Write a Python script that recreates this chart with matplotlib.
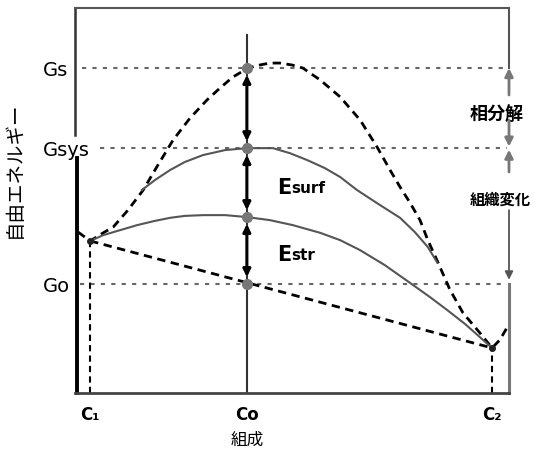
"""自由エネルギー-組成 模式図（相分解と組織変化）。"""
import matplotlib
matplotlib.use("Agg")
import matplotlib.pyplot as plt

plt.rcParams['font.family'] = ['DejaVu Sans', 'Noto Sans CJK JP']
JP = ['Noto Sans CJK JP', 'DejaVu Sans']

# 横軸: 組成 (0-100), 縦軸: 自由エネルギー (0-100)。図から読み取った値
C1, C0, C2 = 3.5, 39.6, 96.1
G_s, G_sys, G_str, G_o = 84.4, 63.6, 45.7, 28.3
G_c1, G_c2 = 39.5, 11.7

# 破線の曲線 (Gs を通る)
dash_x = [0.7, 3.5, 6.5, 8.8, 12.2, 15.7, 19.1, 22.6, 26.5, 30.4, 33.4, 36.4,
          39.9, 42.6, 44.9, 47.2, 50.0, 52.5, 56.5, 61.1, 65.7, 69.6, 72.6,
          74.9, 77.2, 79.5, 81.3, 83.4, 86.4, 89.4, 93.3, 96.1, 97.9, 99.5]
dash_g = [41.8, 39.5, 41.6, 43.1, 47.5, 52.7, 59.2, 65.7, 71.4, 76.1, 79.2, 82.1,
          84.4, 85.2, 85.7, 85.7, 85.2, 84.4, 81.3, 76.9, 70.9, 63.9, 57.9,
          53.5, 49.4, 44.9, 39.7, 34.5, 26.8, 20.8, 15.6, 11.7, 13.8, 16.9]

# 実線 (Gsys を通る)
sys_x = [15.4, 18.4, 21.9, 25.3, 29.5, 34.6, 39.6, 45.6, 49.5, 53.5, 57.6,
         61.1, 65.0, 70.3, 74.9, 78.3, 81.3, 83.4]
sys_g = [52.7, 55.3, 57.9, 60.0, 61.8, 63.1, 63.6, 63.6, 62.3, 60.5, 58.4,
         56.1, 52.7, 48.8, 45.5, 41.8, 37.9, 34.0]

# 実線 (Estr 側)
str_x = [3.5, 6.5, 10.4, 14.3, 18.4, 21.9, 25.3, 29.5, 34.6, 39.6, 44.9,
         50.2, 56.5, 61.1, 65.7, 71.4, 77.2, 81.8, 85.7, 89.9, 93.3, 96.1]
str_g = [39.5, 41.0, 42.3, 43.6, 44.7, 45.5, 46.0, 46.2, 46.2, 45.7, 44.9,
         43.6, 41.6, 39.7, 37.1, 33.2, 28.6, 24.9, 21.6, 17.9, 14.5, 11.7]

x_ticks = [C1, C0, C2]
x_labels = ['C₁', 'Co', 'C₂']
y_ticks = [G_o, G_sys, G_s]
y_labels = ['Go', 'Gsys', 'Gs']

fig = plt.figure(figsize=(5.34, 4.55), dpi=100)
ax = fig.add_axes([75 / 534, 62 / 455, 434 / 534, 385 / 455])
ax.set_xlim(0, 100)
ax.set_ylim(0, 100)

for side in ['left', 'right']:
    ax.spines[side].set_visible(False)
ax.spines['top'].set_color('#555555')
ax.spines['top'].set_linewidth(1.5)
ax.spines['bottom'].set_color('#444444')
ax.spines['bottom'].set_linewidth(2)

# 左軸（Gsys 付近で途切れる）
ax.plot([0, 0], [1.0, 0.67], color='#333333', lw=1.8, transform=ax.transAxes, clip_on=False)
ax.plot([0.004, 0.004], [0.61, 0.0], color='black', lw=2.8, transform=ax.transAxes, clip_on=False)

gray = '#666666'
dot_style = dict(color=gray, lw=1.5, linestyle=(0, (2, 3)))
ax.plot([1.6, 99.5], [G_s, G_s], **dot_style)
ax.plot([5.8, 99.5], [G_sys, G_sys], **dot_style)
ax.plot([1.2, 99.5], [G_o, G_o], **dot_style)

# Co の縦線
ax.plot([C0, C0], [0, 93.0], color='#333333', lw=1.5)

# 曲線
ax.plot(dash_x, dash_g, color='black', lw=2, linestyle=(0, (3, 2)))
ax.plot(sys_x, sys_g, color='#555555', lw=1.5)
ax.plot(str_x, str_g, color='#555555', lw=1.5)
ax.plot([C1, C2], [G_c1, G_c2], color='black', lw=2, linestyle=(0, (3, 2)))
ax.plot([C1, C1], [0, G_c1], color='black', lw=1.5, linestyle=(0, (3, 2)))
ax.plot([C2, C2], [0, G_c2], color='black', lw=1.5, linestyle=(0, (3, 2)))

# Co 上の両矢印
levels = [G_s, G_sys, G_str, G_o]
for top, bot in zip(levels[:-1], levels[1:]):
    ax.annotate('', xy=(C0, top), xytext=(C0, bot),
                arrowprops=dict(arrowstyle='<|-|>', color='black', lw=2.2,
                                mutation_scale=11, shrinkA=5, shrinkB=5))
ax.plot([C0] * 4, levels, 'o', color='#777777', ms=7, zorder=5)
ax.plot([C1, C2], [G_c1, G_c2], 'o', color='#222222', ms=4, zorder=5)

# 右側の矢印
ax.plot([100, 100], [100, G_s], color='#555555', lw=1.5, clip_on=False)
ax.plot([100, 100], [0, G_o], color='#777777', lw=2.2, clip_on=False)
arr_gray = dict(arrowstyle='-|>', color='#777777', lw=2, mutation_scale=12, shrinkA=0, shrinkB=0)
ax.annotate('', xy=(100, G_s), xytext=(100, 77.4), arrowprops=arr_gray, annotation_clip=False)
ax.annotate('', xy=(100, G_sys + 0.4), xytext=(100, 70.9), arrowprops=arr_gray, annotation_clip=False)
ax.annotate('', xy=(100, G_sys - 0.4), xytext=(100, 57.4), arrowprops=arr_gray, annotation_clip=False)
ax.annotate('', xy=(100, 29.4), xytext=(100, 47.5),
            arrowprops=dict(arrowstyle='-|>', color='#555555', lw=1.3, mutation_scale=12,
                            shrinkA=0, shrinkB=0), annotation_clip=False)

ax.text(97.2, 72.2, '相分解', family=JP, fontsize=13, fontweight='bold',
        ha='center', va='center', clip_on=False)
ax.text(97.9, 50.1, '組織変化', family=JP, fontsize=11, fontweight='bold',
        ha='center', va='center', clip_on=False)

# Esurf, Estr
for y, sub in [(53.2, 'surf'), (35.8, 'str')]:
    e = ax.text(46.5, y, 'E', fontsize=15, fontweight='bold', ha='left', va='center')
    ax.annotate(sub, xy=(1, 0.12), xycoords=e, fontsize=11, fontweight='bold',
                ha='left', va='bottom')

ax.set_xticks(x_ticks, x_labels, fontsize=12, fontweight='bold')
ax.set_yticks(y_ticks, y_labels, fontsize=14)
ax.tick_params(axis='x', length=0, pad=9)
ax.tick_params(axis='y', length=0, pad=23)
for lbl in ax.get_yticklabels():
    lbl.set_horizontalalignment('left')

ax.set_xlabel('組成', family=JP, fontsize=12)
ax.xaxis.set_label_coords(C0 / 100, -0.10)
ax.set_ylabel('自由エネルギー', family=JP, fontsize=14)
ax.yaxis.set_label_coords(-0.115, 0.58)

fig.savefig('out.png', dpi=100)
